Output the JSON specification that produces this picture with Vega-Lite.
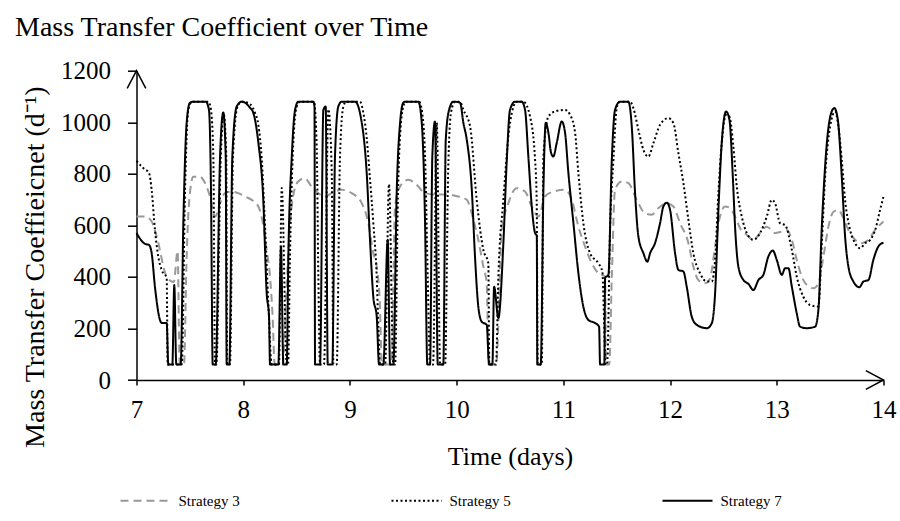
{
"$schema":"https://vega.github.io/schema/vega-lite/v6.json",
"width":747,"height":309.3,
"autosize":{"type":"none"},
"padding":{"left":136.5,"top":70.7,"right":16.5,"bottom":141},
"background":"white",
"config":{"view":{"stroke":null},"font":"Liberation Serif"},
"title":{"text":"Mass Transfer Coefficient over Time","anchor":"start","frame":"group","font":"Liberation Serif","fontSize":28,"fontWeight":"normal","color":"#000","dx":-121.5,"dy":-13},
"datasets":{"lines":[
{"s":"Strategy 3","t":7.000,"v":634},{"s":"Strategy 3","t":7.080,"v":634},{"s":"Strategy 3","t":7.142,"v":615},{"s":"Strategy 3","t":7.189,"v":557},{"s":"Strategy 3","t":7.283,"v":401},{"s":"Strategy 3","t":7.350,"v":380},{"s":"Strategy 3","t":7.385,"v":500},{"s":"Strategy 3","t":7.405,"v":60},{"s":"Strategy 3","t":7.445,"v":60},{"s":"Strategy 3","t":7.470,"v":480},{"s":"Strategy 3","t":7.495,"v":700},{"s":"Strategy 3","t":7.532,"v":789},{"s":"Strategy 3","t":7.595,"v":789},{"s":"Strategy 3","t":7.642,"v":764},{"s":"Strategy 3","t":7.689,"v":712},{"s":"Strategy 3","t":7.736,"v":634},{"s":"Strategy 3","t":7.783,"v":686},{"s":"Strategy 3","t":7.829,"v":725},{"s":"Strategy 3","t":7.892,"v":731},{"s":"Strategy 3","t":7.954,"v":725},{"s":"Strategy 3","t":8.017,"v":712},{"s":"Strategy 3","t":8.080,"v":699},{"s":"Strategy 3","t":8.142,"v":673},{"s":"Strategy 3","t":8.188,"v":600},{"s":"Strategy 3","t":8.220,"v":505},{"s":"Strategy 3","t":8.251,"v":401},{"s":"Strategy 3","t":8.275,"v":250},{"s":"Strategy 3","t":8.295,"v":60},{"s":"Strategy 3","t":8.370,"v":60},{"s":"Strategy 3","t":8.400,"v":300},{"s":"Strategy 3","t":8.430,"v":550},{"s":"Strategy 3","t":8.467,"v":712},{"s":"Strategy 3","t":8.515,"v":770},{"s":"Strategy 3","t":8.577,"v":783},{"s":"Strategy 3","t":8.640,"v":751},{"s":"Strategy 3","t":8.704,"v":725},{"s":"Strategy 3","t":8.767,"v":712},{"s":"Strategy 3","t":8.829,"v":725},{"s":"Strategy 3","t":8.923,"v":738},{"s":"Strategy 3","t":9.017,"v":725},{"s":"Strategy 3","t":9.111,"v":686},{"s":"Strategy 3","t":9.173,"v":608},{"s":"Strategy 3","t":9.219,"v":492},{"s":"Strategy 3","t":9.251,"v":440},{"s":"Strategy 3","t":9.280,"v":300},{"s":"Strategy 3","t":9.300,"v":60},{"s":"Strategy 3","t":9.390,"v":60},{"s":"Strategy 3","t":9.423,"v":673},{"s":"Strategy 3","t":9.470,"v":751},{"s":"Strategy 3","t":9.548,"v":777},{"s":"Strategy 3","t":9.626,"v":757},{"s":"Strategy 3","t":9.704,"v":725},{"s":"Strategy 3","t":9.797,"v":720},{"s":"Strategy 3","t":9.907,"v":720},{"s":"Strategy 3","t":10.016,"v":712},{"s":"Strategy 3","t":10.095,"v":699},{"s":"Strategy 3","t":10.157,"v":621},{"s":"Strategy 3","t":10.203,"v":544},{"s":"Strategy 3","t":10.250,"v":440},{"s":"Strategy 3","t":10.282,"v":375},{"s":"Strategy 3","t":10.300,"v":60},{"s":"Strategy 3","t":10.370,"v":60},{"s":"Strategy 3","t":10.423,"v":582},{"s":"Strategy 3","t":10.485,"v":686},{"s":"Strategy 3","t":10.563,"v":744},{"s":"Strategy 3","t":10.641,"v":731},{"s":"Strategy 3","t":10.704,"v":673},{"s":"Strategy 3","t":10.767,"v":634},{"s":"Strategy 3","t":10.828,"v":712},{"s":"Strategy 3","t":10.906,"v":731},{"s":"Strategy 3","t":11.016,"v":738},{"s":"Strategy 3","t":11.079,"v":699},{"s":"Strategy 3","t":11.141,"v":595},{"s":"Strategy 3","t":11.203,"v":518},{"s":"Strategy 3","t":11.266,"v":453},{"s":"Strategy 3","t":11.328,"v":414},{"s":"Strategy 3","t":11.391,"v":401},{"s":"Strategy 3","t":11.400,"v":60},{"s":"Strategy 3","t":11.430,"v":60},{"s":"Strategy 3","t":11.454,"v":400},{"s":"Strategy 3","t":11.484,"v":738},{"s":"Strategy 3","t":11.547,"v":770},{"s":"Strategy 3","t":11.609,"v":764},{"s":"Strategy 3","t":11.687,"v":699},{"s":"Strategy 3","t":11.766,"v":647},{"s":"Strategy 3","t":11.828,"v":641},{"s":"Strategy 3","t":11.890,"v":667},{"s":"Strategy 3","t":11.969,"v":686},{"s":"Strategy 3","t":12.031,"v":673},{"s":"Strategy 3","t":12.094,"v":608},{"s":"Strategy 3","t":12.172,"v":531},{"s":"Strategy 3","t":12.218,"v":440},{"s":"Strategy 3","t":12.265,"v":388},{"s":"Strategy 3","t":12.328,"v":375},{"s":"Strategy 3","t":12.375,"v":395},{"s":"Strategy 3","t":12.422,"v":518},{"s":"Strategy 3","t":12.468,"v":634},{"s":"Strategy 3","t":12.515,"v":673},{"s":"Strategy 3","t":12.562,"v":667},{"s":"Strategy 3","t":12.609,"v":634},{"s":"Strategy 3","t":12.656,"v":589},{"s":"Strategy 3","t":12.719,"v":563},{"s":"Strategy 3","t":12.781,"v":544},{"s":"Strategy 3","t":12.843,"v":570},{"s":"Strategy 3","t":12.906,"v":595},{"s":"Strategy 3","t":12.984,"v":570},{"s":"Strategy 3","t":13.047,"v":576},{"s":"Strategy 3","t":13.094,"v":582},{"s":"Strategy 3","t":13.141,"v":544},{"s":"Strategy 3","t":13.187,"v":466},{"s":"Strategy 3","t":13.234,"v":401},{"s":"Strategy 3","t":13.281,"v":369},{"s":"Strategy 3","t":13.343,"v":356},{"s":"Strategy 3","t":13.390,"v":375},{"s":"Strategy 3","t":13.437,"v":479},{"s":"Strategy 3","t":13.484,"v":595},{"s":"Strategy 3","t":13.531,"v":653},{"s":"Strategy 3","t":13.577,"v":660},{"s":"Strategy 3","t":13.624,"v":628},{"s":"Strategy 3","t":13.671,"v":582},{"s":"Strategy 3","t":13.734,"v":544},{"s":"Strategy 3","t":13.796,"v":531},{"s":"Strategy 3","t":13.859,"v":544},{"s":"Strategy 3","t":13.922,"v":582},{"s":"Strategy 3","t":14.000,"v":615},
{"s":"Strategy 5","t":7.000,"v":850},{"s":"Strategy 5","t":7.064,"v":822},{"s":"Strategy 5","t":7.117,"v":803},{"s":"Strategy 5","t":7.142,"v":738},{"s":"Strategy 5","t":7.173,"v":582},{"s":"Strategy 5","t":7.204,"v":479},{"s":"Strategy 5","t":7.236,"v":427},{"s":"Strategy 5","t":7.283,"v":395},{"s":"Strategy 5","t":7.292,"v":60},{"s":"Strategy 5","t":7.424,"v":60},{"s":"Strategy 5","t":7.455,"v":738},{"s":"Strategy 5","t":7.485,"v":1048},{"s":"Strategy 5","t":7.520,"v":1080},{"s":"Strategy 5","t":7.673,"v":1080},{"s":"Strategy 5","t":7.698,"v":1048},{"s":"Strategy 5","t":7.720,"v":867},{"s":"Strategy 5","t":7.736,"v":60},{"s":"Strategy 5","t":7.748,"v":60},{"s":"Strategy 5","t":7.790,"v":867},{"s":"Strategy 5","t":7.818,"v":1030},{"s":"Strategy 5","t":7.841,"v":867},{"s":"Strategy 5","t":7.850,"v":60},{"s":"Strategy 5","t":7.876,"v":60},{"s":"Strategy 5","t":7.904,"v":867},{"s":"Strategy 5","t":7.947,"v":1061},{"s":"Strategy 5","t":7.989,"v":1080},{"s":"Strategy 5","t":8.064,"v":1070},{"s":"Strategy 5","t":8.111,"v":1036},{"s":"Strategy 5","t":8.142,"v":990},{"s":"Strategy 5","t":8.173,"v":860},{"s":"Strategy 5","t":8.204,"v":600},{"s":"Strategy 5","t":8.235,"v":300},{"s":"Strategy 5","t":8.267,"v":60},{"s":"Strategy 5","t":8.335,"v":60},{"s":"Strategy 5","t":8.361,"v":745},{"s":"Strategy 5","t":8.408,"v":60},{"s":"Strategy 5","t":8.420,"v":60},{"s":"Strategy 5","t":8.439,"v":500},{"s":"Strategy 5","t":8.467,"v":900},{"s":"Strategy 5","t":8.501,"v":1060},{"s":"Strategy 5","t":8.532,"v":1080},{"s":"Strategy 5","t":8.663,"v":1080},{"s":"Strategy 5","t":8.689,"v":900},{"s":"Strategy 5","t":8.704,"v":400},{"s":"Strategy 5","t":8.720,"v":60},{"s":"Strategy 5","t":8.757,"v":60},{"s":"Strategy 5","t":8.798,"v":1050},{"s":"Strategy 5","t":8.830,"v":800},{"s":"Strategy 5","t":8.845,"v":60},{"s":"Strategy 5","t":8.876,"v":60},{"s":"Strategy 5","t":8.907,"v":867},{"s":"Strategy 5","t":8.938,"v":1060},{"s":"Strategy 5","t":8.963,"v":1080},{"s":"Strategy 5","t":9.094,"v":1080},{"s":"Strategy 5","t":9.126,"v":1036},{"s":"Strategy 5","t":9.157,"v":940},{"s":"Strategy 5","t":9.188,"v":780},{"s":"Strategy 5","t":9.219,"v":610},{"s":"Strategy 5","t":9.251,"v":400},{"s":"Strategy 5","t":9.267,"v":200},{"s":"Strategy 5","t":9.283,"v":60},{"s":"Strategy 5","t":9.330,"v":60},{"s":"Strategy 5","t":9.366,"v":760},{"s":"Strategy 5","t":9.407,"v":60},{"s":"Strategy 5","t":9.423,"v":60},{"s":"Strategy 5","t":9.451,"v":738},{"s":"Strategy 5","t":9.479,"v":1000},{"s":"Strategy 5","t":9.507,"v":1070},{"s":"Strategy 5","t":9.526,"v":1080},{"s":"Strategy 5","t":9.648,"v":1080},{"s":"Strategy 5","t":9.673,"v":1048},{"s":"Strategy 5","t":9.704,"v":867},{"s":"Strategy 5","t":9.729,"v":400},{"s":"Strategy 5","t":9.751,"v":60},{"s":"Strategy 5","t":9.779,"v":60},{"s":"Strategy 5","t":9.814,"v":998},{"s":"Strategy 5","t":9.845,"v":60},{"s":"Strategy 5","t":9.892,"v":60},{"s":"Strategy 5","t":9.920,"v":800},{"s":"Strategy 5","t":9.948,"v":1040},{"s":"Strategy 5","t":9.986,"v":1080},{"s":"Strategy 5","t":10.032,"v":1080},{"s":"Strategy 5","t":10.063,"v":1048},{"s":"Strategy 5","t":10.126,"v":984},{"s":"Strategy 5","t":10.188,"v":699},{"s":"Strategy 5","t":10.250,"v":505},{"s":"Strategy 5","t":10.297,"v":453},{"s":"Strategy 5","t":10.306,"v":60},{"s":"Strategy 5","t":10.369,"v":60},{"s":"Strategy 5","t":10.391,"v":400},{"s":"Strategy 5","t":10.438,"v":700},{"s":"Strategy 5","t":10.501,"v":1000},{"s":"Strategy 5","t":10.563,"v":1080},{"s":"Strategy 5","t":10.625,"v":1080},{"s":"Strategy 5","t":10.688,"v":1022},{"s":"Strategy 5","t":10.735,"v":854},{"s":"Strategy 5","t":10.750,"v":699},{"s":"Strategy 5","t":10.760,"v":60},{"s":"Strategy 5","t":10.798,"v":60},{"s":"Strategy 5","t":10.813,"v":867},{"s":"Strategy 5","t":10.860,"v":1022},{"s":"Strategy 5","t":10.922,"v":1042},{"s":"Strategy 5","t":11.016,"v":1048},{"s":"Strategy 5","t":11.063,"v":1029},{"s":"Strategy 5","t":11.110,"v":959},{"s":"Strategy 5","t":11.141,"v":802},{"s":"Strategy 5","t":11.187,"v":610},{"s":"Strategy 5","t":11.250,"v":492},{"s":"Strategy 5","t":11.328,"v":453},{"s":"Strategy 5","t":11.365,"v":421},{"s":"Strategy 5","t":11.397,"v":60},{"s":"Strategy 5","t":11.410,"v":60},{"s":"Strategy 5","t":11.438,"v":595},{"s":"Strategy 5","t":11.469,"v":854},{"s":"Strategy 5","t":11.500,"v":1055},{"s":"Strategy 5","t":11.531,"v":1080},{"s":"Strategy 5","t":11.625,"v":1080},{"s":"Strategy 5","t":11.656,"v":1055},{"s":"Strategy 5","t":11.703,"v":971},{"s":"Strategy 5","t":11.750,"v":893},{"s":"Strategy 5","t":11.797,"v":867},{"s":"Strategy 5","t":11.844,"v":919},{"s":"Strategy 5","t":11.906,"v":990},{"s":"Strategy 5","t":11.984,"v":1016},{"s":"Strategy 5","t":12.031,"v":997},{"s":"Strategy 5","t":12.078,"v":880},{"s":"Strategy 5","t":12.125,"v":764},{"s":"Strategy 5","t":12.172,"v":621},{"s":"Strategy 5","t":12.218,"v":492},{"s":"Strategy 5","t":12.281,"v":414},{"s":"Strategy 5","t":12.344,"v":382},{"s":"Strategy 5","t":12.391,"v":382},{"s":"Strategy 5","t":12.422,"v":466},{"s":"Strategy 5","t":12.453,"v":725},{"s":"Strategy 5","t":12.484,"v":919},{"s":"Strategy 5","t":12.525,"v":1029},{"s":"Strategy 5","t":12.556,"v":1022},{"s":"Strategy 5","t":12.593,"v":906},{"s":"Strategy 5","t":12.625,"v":751},{"s":"Strategy 5","t":12.672,"v":634},{"s":"Strategy 5","t":12.719,"v":570},{"s":"Strategy 5","t":12.781,"v":544},{"s":"Strategy 5","t":12.843,"v":570},{"s":"Strategy 5","t":12.906,"v":634},{"s":"Strategy 5","t":12.953,"v":699},{"s":"Strategy 5","t":12.984,"v":686},{"s":"Strategy 5","t":13.031,"v":608},{"s":"Strategy 5","t":13.078,"v":601},{"s":"Strategy 5","t":13.141,"v":505},{"s":"Strategy 5","t":13.187,"v":401},{"s":"Strategy 5","t":13.249,"v":323},{"s":"Strategy 5","t":13.312,"v":291},{"s":"Strategy 5","t":13.390,"v":285},{"s":"Strategy 5","t":13.422,"v":531},{"s":"Strategy 5","t":13.453,"v":789},{"s":"Strategy 5","t":13.500,"v":984},{"s":"Strategy 5","t":13.547,"v":1042},{"s":"Strategy 5","t":13.577,"v":984},{"s":"Strategy 5","t":13.609,"v":854},{"s":"Strategy 5","t":13.640,"v":699},{"s":"Strategy 5","t":13.687,"v":582},{"s":"Strategy 5","t":13.734,"v":531},{"s":"Strategy 5","t":13.781,"v":511},{"s":"Strategy 5","t":13.828,"v":531},{"s":"Strategy 5","t":13.875,"v":544},{"s":"Strategy 5","t":13.922,"v":582},{"s":"Strategy 5","t":13.968,"v":660},{"s":"Strategy 5","t":14.000,"v":712},
{"s":"Strategy 7","t":7.000,"v":570},{"s":"Strategy 7","t":7.080,"v":528},{"s":"Strategy 7","t":7.117,"v":524},{"s":"Strategy 7","t":7.142,"v":493},{"s":"Strategy 7","t":7.173,"v":361},{"s":"Strategy 7","t":7.220,"v":233},{"s":"Strategy 7","t":7.236,"v":221},{"s":"Strategy 7","t":7.283,"v":221},{"s":"Strategy 7","t":7.298,"v":60},{"s":"Strategy 7","t":7.336,"v":60},{"s":"Strategy 7","t":7.354,"v":369},{"s":"Strategy 7","t":7.373,"v":60},{"s":"Strategy 7","t":7.414,"v":60},{"s":"Strategy 7","t":7.439,"v":610},{"s":"Strategy 7","t":7.470,"v":998},{"s":"Strategy 7","t":7.501,"v":1076},{"s":"Strategy 7","t":7.532,"v":1080},{"s":"Strategy 7","t":7.649,"v":1080},{"s":"Strategy 7","t":7.679,"v":1048},{"s":"Strategy 7","t":7.698,"v":738},{"s":"Strategy 7","t":7.714,"v":60},{"s":"Strategy 7","t":7.742,"v":60},{"s":"Strategy 7","t":7.783,"v":867},{"s":"Strategy 7","t":7.813,"v":1038},{"s":"Strategy 7","t":7.836,"v":867},{"s":"Strategy 7","t":7.845,"v":60},{"s":"Strategy 7","t":7.870,"v":60},{"s":"Strategy 7","t":7.898,"v":867},{"s":"Strategy 7","t":7.939,"v":1061},{"s":"Strategy 7","t":7.986,"v":1080},{"s":"Strategy 7","t":8.064,"v":1056},{"s":"Strategy 7","t":8.095,"v":1036},{"s":"Strategy 7","t":8.142,"v":920},{"s":"Strategy 7","t":8.188,"v":699},{"s":"Strategy 7","t":8.220,"v":337},{"s":"Strategy 7","t":8.242,"v":246},{"s":"Strategy 7","t":8.251,"v":60},{"s":"Strategy 7","t":8.329,"v":60},{"s":"Strategy 7","t":8.354,"v":518},{"s":"Strategy 7","t":8.376,"v":60},{"s":"Strategy 7","t":8.408,"v":60},{"s":"Strategy 7","t":8.423,"v":479},{"s":"Strategy 7","t":8.455,"v":867},{"s":"Strategy 7","t":8.486,"v":1048},{"s":"Strategy 7","t":8.516,"v":1080},{"s":"Strategy 7","t":8.657,"v":1080},{"s":"Strategy 7","t":8.668,"v":1060},{"s":"Strategy 7","t":8.673,"v":60},{"s":"Strategy 7","t":8.720,"v":60},{"s":"Strategy 7","t":8.751,"v":1048},{"s":"Strategy 7","t":8.773,"v":1061},{"s":"Strategy 7","t":8.792,"v":60},{"s":"Strategy 7","t":8.835,"v":60},{"s":"Strategy 7","t":8.860,"v":867},{"s":"Strategy 7","t":8.891,"v":1061},{"s":"Strategy 7","t":8.923,"v":1080},{"s":"Strategy 7","t":9.048,"v":1080},{"s":"Strategy 7","t":9.111,"v":998},{"s":"Strategy 7","t":9.157,"v":804},{"s":"Strategy 7","t":9.188,"v":544},{"s":"Strategy 7","t":9.219,"v":323},{"s":"Strategy 7","t":9.251,"v":246},{"s":"Strategy 7","t":9.273,"v":60},{"s":"Strategy 7","t":9.313,"v":60},{"s":"Strategy 7","t":9.354,"v":544},{"s":"Strategy 7","t":9.376,"v":60},{"s":"Strategy 7","t":9.407,"v":60},{"s":"Strategy 7","t":9.439,"v":738},{"s":"Strategy 7","t":9.470,"v":998},{"s":"Strategy 7","t":9.500,"v":1076},{"s":"Strategy 7","t":9.516,"v":1080},{"s":"Strategy 7","t":9.641,"v":1080},{"s":"Strategy 7","t":9.673,"v":998},{"s":"Strategy 7","t":9.704,"v":610},{"s":"Strategy 7","t":9.725,"v":60},{"s":"Strategy 7","t":9.751,"v":60},{"s":"Strategy 7","t":9.772,"v":867},{"s":"Strategy 7","t":9.797,"v":1003},{"s":"Strategy 7","t":9.823,"v":60},{"s":"Strategy 7","t":9.875,"v":60},{"s":"Strategy 7","t":9.898,"v":932},{"s":"Strategy 7","t":9.929,"v":1048},{"s":"Strategy 7","t":9.969,"v":1080},{"s":"Strategy 7","t":10.032,"v":1076},{"s":"Strategy 7","t":10.063,"v":998},{"s":"Strategy 7","t":10.095,"v":932},{"s":"Strategy 7","t":10.142,"v":738},{"s":"Strategy 7","t":10.172,"v":479},{"s":"Strategy 7","t":10.203,"v":285},{"s":"Strategy 7","t":10.235,"v":226},{"s":"Strategy 7","t":10.282,"v":214},{"s":"Strategy 7","t":10.304,"v":60},{"s":"Strategy 7","t":10.335,"v":60},{"s":"Strategy 7","t":10.351,"v":362},{"s":"Strategy 7","t":10.391,"v":241},{"s":"Strategy 7","t":10.438,"v":532},{"s":"Strategy 7","t":10.470,"v":854},{"s":"Strategy 7","t":10.500,"v":1048},{"s":"Strategy 7","t":10.547,"v":1080},{"s":"Strategy 7","t":10.610,"v":1080},{"s":"Strategy 7","t":10.641,"v":1048},{"s":"Strategy 7","t":10.672,"v":867},{"s":"Strategy 7","t":10.704,"v":673},{"s":"Strategy 7","t":10.735,"v":570},{"s":"Strategy 7","t":10.751,"v":560},{"s":"Strategy 7","t":10.756,"v":60},{"s":"Strategy 7","t":10.788,"v":60},{"s":"Strategy 7","t":10.813,"v":738},{"s":"Strategy 7","t":10.835,"v":998},{"s":"Strategy 7","t":10.860,"v":959},{"s":"Strategy 7","t":10.885,"v":881},{"s":"Strategy 7","t":10.906,"v":867},{"s":"Strategy 7","t":10.938,"v":920},{"s":"Strategy 7","t":10.985,"v":1003},{"s":"Strategy 7","t":11.016,"v":959},{"s":"Strategy 7","t":11.047,"v":804},{"s":"Strategy 7","t":11.094,"v":610},{"s":"Strategy 7","t":11.141,"v":414},{"s":"Strategy 7","t":11.187,"v":285},{"s":"Strategy 7","t":11.234,"v":233},{"s":"Strategy 7","t":11.297,"v":221},{"s":"Strategy 7","t":11.335,"v":207},{"s":"Strategy 7","t":11.344,"v":60},{"s":"Strategy 7","t":11.384,"v":60},{"s":"Strategy 7","t":11.391,"v":396},{"s":"Strategy 7","t":11.422,"v":408},{"s":"Strategy 7","t":11.454,"v":854},{"s":"Strategy 7","t":11.484,"v":1048},{"s":"Strategy 7","t":11.531,"v":1080},{"s":"Strategy 7","t":11.609,"v":1080},{"s":"Strategy 7","t":11.641,"v":984},{"s":"Strategy 7","t":11.672,"v":725},{"s":"Strategy 7","t":11.703,"v":557},{"s":"Strategy 7","t":11.750,"v":492},{"s":"Strategy 7","t":11.787,"v":459},{"s":"Strategy 7","t":11.813,"v":492},{"s":"Strategy 7","t":11.859,"v":531},{"s":"Strategy 7","t":11.906,"v":608},{"s":"Strategy 7","t":11.937,"v":673},{"s":"Strategy 7","t":11.969,"v":688},{"s":"Strategy 7","t":12.000,"v":660},{"s":"Strategy 7","t":12.047,"v":492},{"s":"Strategy 7","t":12.078,"v":427},{"s":"Strategy 7","t":12.125,"v":421},{"s":"Strategy 7","t":12.156,"v":362},{"s":"Strategy 7","t":12.203,"v":246},{"s":"Strategy 7","t":12.250,"v":214},{"s":"Strategy 7","t":12.344,"v":201},{"s":"Strategy 7","t":12.391,"v":220},{"s":"Strategy 7","t":12.422,"v":337},{"s":"Strategy 7","t":12.453,"v":660},{"s":"Strategy 7","t":12.484,"v":919},{"s":"Strategy 7","t":12.525,"v":1042},{"s":"Strategy 7","t":12.556,"v":1010},{"s":"Strategy 7","t":12.588,"v":789},{"s":"Strategy 7","t":12.609,"v":595},{"s":"Strategy 7","t":12.640,"v":440},{"s":"Strategy 7","t":12.687,"v":388},{"s":"Strategy 7","t":12.734,"v":373},{"s":"Strategy 7","t":12.781,"v":349},{"s":"Strategy 7","t":12.828,"v":388},{"s":"Strategy 7","t":12.874,"v":408},{"s":"Strategy 7","t":12.921,"v":479},{"s":"Strategy 7","t":12.963,"v":502},{"s":"Strategy 7","t":13.000,"v":466},{"s":"Strategy 7","t":13.047,"v":408},{"s":"Strategy 7","t":13.078,"v":434},{"s":"Strategy 7","t":13.109,"v":434},{"s":"Strategy 7","t":13.141,"v":362},{"s":"Strategy 7","t":13.187,"v":259},{"s":"Strategy 7","t":13.218,"v":207},{"s":"Strategy 7","t":13.281,"v":201},{"s":"Strategy 7","t":13.359,"v":207},{"s":"Strategy 7","t":13.390,"v":272},{"s":"Strategy 7","t":13.422,"v":595},{"s":"Strategy 7","t":13.469,"v":919},{"s":"Strategy 7","t":13.509,"v":1035},{"s":"Strategy 7","t":13.540,"v":1055},{"s":"Strategy 7","t":13.572,"v":1010},{"s":"Strategy 7","t":13.609,"v":789},{"s":"Strategy 7","t":13.640,"v":557},{"s":"Strategy 7","t":13.671,"v":440},{"s":"Strategy 7","t":13.718,"v":382},{"s":"Strategy 7","t":13.774,"v":360},{"s":"Strategy 7","t":13.812,"v":382},{"s":"Strategy 7","t":13.859,"v":388},{"s":"Strategy 7","t":13.905,"v":466},{"s":"Strategy 7","t":13.952,"v":518},{"s":"Strategy 7","t":14.000,"v":533}
]},
"layer":[
{"data":{"name":"lines"},
 "mark":{"type":"line","interpolate":"monotone","strokeWidth":2},
 "encoding":{
  "x":{"field":"t","type":"quantitative","scale":{"domain":[7,14],"nice":false,"zero":false},
   "axis":{"title":"Time (days)","values":[7,8,9,10,11,12,13,14],"format":"d","grid":false,"domainColor":"#000","domainWidth":1.5,"tickColor":"#000","tickWidth":1.5,"tickSize":5,"labelFont":"Liberation Serif","labelFontSize":25,"labelColor":"#000","labelPadding":12,"labelFlush":false,"labelOverlap":false,"titleFont":"Liberation Serif","titleFontSize":26,"titleFontWeight":"normal","titleColor":"#000","titleY":84,"titleBaseline":"alphabetic"}},
  "y":{"field":"v","type":"quantitative","scale":{"domain":[0,1200],"nice":false},
   "axis":{"title":"Mass Transfer Coeffieicnet (d⁻¹)","values":[0,200,400,600,800,1000,1200],"format":"d","grid":false,"domainColor":"#000","domainWidth":1.5,"tickColor":"#000","tickWidth":1.5,"tickSize":9,"labelFont":"Liberation Serif","labelFontSize":25,"labelColor":"#000","labelPadding":17,"labelFlush":false,"labelOverlap":false,"titleFont":"Liberation Serif","titleFontSize":28,"titleFontWeight":"normal","titleColor":"#000","titleAngle":-90,"titleX":-93.5,"titleY":196,"titleAlign":"center","titleBaseline":"alphabetic"}},
  "color":{"field":"s","type":"nominal","scale":{"domain":["Strategy 3","Strategy 5","Strategy 7"],"range":["#999999","#000000","#000000"]},
   "legend":{"title":null,"orient":"none","legendX":-17,"legendY":404,"direction":"horizontal","symbolType":"stroke","symbolSize":2500,"symbolStrokeWidth":2,"labelFont":"Liberation Serif","labelFontSize":15,"labelColor":"#000","columnPadding":147,"labelOffset":7}},
  "strokeDash":{"field":"s","type":"nominal","scale":{"domain":["Strategy 3","Strategy 5","Strategy 7"],"range":[[8,5],[2,2.5],[1,0]]},
   "legend":{"title":null,"orient":"none","legendX":-17,"legendY":404,"direction":"horizontal","symbolType":"stroke","symbolSize":2500,"symbolStrokeWidth":2,"labelFont":"Liberation Serif","labelFontSize":15,"labelColor":"#000","columnPadding":147,"labelOffset":7}}
 }},
{"data":{"values":[{"t":7,"v":1200}]},
 "mark":{"type":"point","shape":"M -1 1.9 L 0 0 L 1 1.9","size":346,"filled":false,"stroke":"#000","strokeWidth":1.5,"opacity":1},
 "encoding":{"x":{"field":"t","type":"quantitative"},"y":{"field":"v","type":"quantitative"}}},
{"data":{"values":[{"t":14,"v":0}]},
 "mark":{"type":"point","shape":"M -1.9 -1 L 0 0 L -1.9 1","size":346,"filled":false,"stroke":"#000","strokeWidth":1.5,"opacity":1},
 "encoding":{"x":{"field":"t","type":"quantitative"},"y":{"field":"v","type":"quantitative"}}}
]
}
